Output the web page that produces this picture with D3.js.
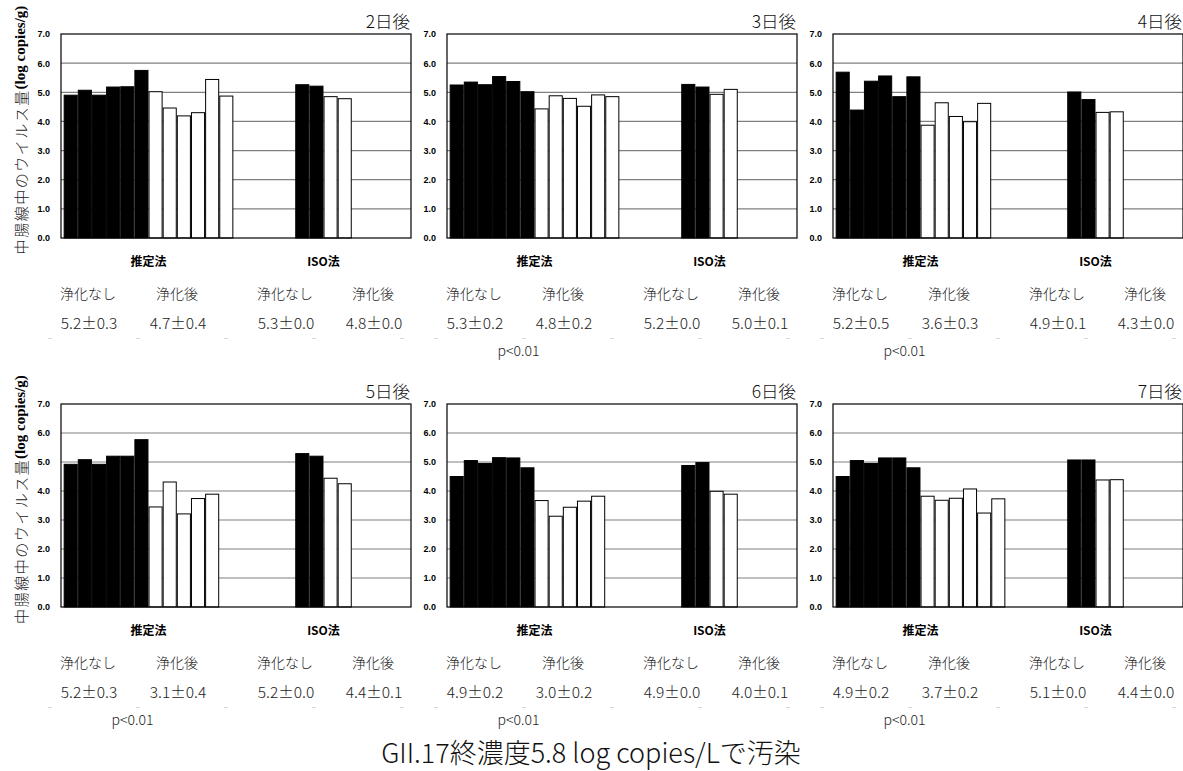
<!DOCTYPE html>
<html><head><meta charset="utf-8">
<script src="https://cdn.jsdelivr.net/npm/d3@7"></script>
<style>
body{margin:0;background:#fff;}
svg{display:block;}
</style></head>
<body><svg id="c" width="1183" height="771"></svg>
<script>
const days = ["2日後","3日後","4日後","5日後","6日後","7日後"];
const methods = ["推定法","ISO法"];
const estNone = [[4.90,5.07,4.90,5.18,5.19,5.75],[5.25,5.35,5.26,5.54,5.37,5.02],[5.69,4.39,5.38,5.56,4.85,5.53],[4.92,5.08,4.92,5.20,5.20,5.77],[4.50,5.05,4.95,5.15,5.14,4.80],[4.50,5.05,4.95,5.14,5.14,4.80]];
const estAfter = [[5.02,4.46,4.19,4.30,5.44,4.87],[4.43,4.88,4.79,4.52,4.91,4.85],[3.87,4.64,4.17,3.99,4.62,null],[3.45,4.31,3.21,3.74,3.89,null],[3.67,3.13,3.44,3.65,3.82,null],[3.82,3.68,3.75,4.07,3.24,3.73]];
const isoNone = [[5.26,5.21],[5.27,5.18],[5.01,4.75],[5.29,5.20],[4.88,4.98],[5.07,5.07]];
const isoAfter = [[4.85,4.78],[4.93,5.10],[4.31,4.33],[4.44,4.25],[3.99,3.89],[4.38,4.39]];
const headers = ["浄化なし","浄化後","浄化なし","浄化後"];
const stats = [["5.2±0.3","4.7±0.4","5.3±0.0","4.8±0.0"],["5.3±0.2","4.8±0.2","5.2±0.0","5.0±0.1"],["5.2±0.5","3.6±0.3","4.9±0.1","4.3±0.0"],["5.2±0.3","3.1±0.4","5.2±0.0","4.4±0.1"],["4.9±0.2","3.0±0.2","4.9±0.0","4.0±0.1"],["4.9±0.2","3.7±0.2","5.1±0.0","4.4±0.0"]];
const pTexts = ["","p<0.01","p<0.01","p<0.01","p<0.01","p<0.01"];
const yTicks = [0,1,2,3,4,5,6,7];
const yLabelJa = "中腸線中のウイルス量";
const yLabelEn = "(log copies/g)";
const mainTitle = "GII.17終濃度5.8 log copies/Lで汚染";

const svg = d3.select("#c");
const JP = "'Noto Sans CJK JP','Noto Sans',sans-serif";
const W = 350;
const lefts = [61, 447, 833];
const tops = [34, 404];
const bottoms = [238, 607];
const colOff = [27, 116, 224, 312];

days.forEach((day, k) => {
  const r = Math.floor(k / 3), c = k % 3;
  const L = lefts[c], T = tops[r], B = bottoms[r];
  const g = svg.append("g").attr("transform", `translate(${L},${T})`);
  const H = B - T;
  const y = d3.scaleLinear().domain([0, 7]).range([H, 0]);
  const x0 = d3.scaleBand().domain(methods).range([0, W]);
  const cw = x0.bandwidth();
  const step = cw * 0.97 / 12;
  const estVals = estNone[k].map(v => ({v, fill: "#000"})).concat(estAfter[k].map(v => ({v, fill: "#fff"})));
  const isoVals = isoNone[k].map(v => ({v, fill: "#000"})).concat(isoAfter[k].map(v => ({v, fill: "#fff"})));
  const xe = d3.scaleBand().domain(d3.range(12)).range([cw/2 - 6*step, cw/2 + 6*step]).paddingInner(0.075).paddingOuter(0.0375);
  const xi = d3.scaleBand().domain(d3.range(4)).range([cw/2 - 2*step, cw/2 + 2*step]).paddingInner(0.075).paddingOuter(0.0375);

  g.selectAll("line.grid").data(yTicks.filter(t => t > 0 && t < 7)).join("line")
    .attr("x1", 0).attr("x2", W).attr("y1", d => y(d)).attr("y2", d => y(d))
    .attr("stroke", "#808080").attr("stroke-width", 1.2);

  const drawBars = (vals, xs, cat) => {
    g.append("g").attr("transform", `translate(${x0(cat)},0)`)
      .selectAll("rect").data(vals.map((d, i) => ({...d, i})).filter(d => d.v != null)).join("rect")
      .attr("x", d => xs(d.i)).attr("width", xs.bandwidth())
      .attr("y", d => y(d.v)).attr("height", d => H - y(d.v))
      .attr("fill", d => d.fill).attr("stroke", "#000").attr("stroke-width", 1);
  };
  drawBars(estVals, xe, methods[0]);
  drawBars(isoVals, xi, methods[1]);

  g.append("rect").attr("x", 0).attr("y", 0).attr("width", W).attr("height", H)
    .attr("fill", "none").attr("stroke", "#000").attr("stroke-width", 1.2);

  const ax = g.append("g").call(d3.axisLeft(y).tickValues(yTicks).tickFormat(d3.format(".1f")).tickSize(0).tickPadding(11));
  ax.select(".domain").remove();
  ax.selectAll("text").attr("font-family", "'Liberation Sans',Arial,sans-serif").attr("font-weight", "bold").attr("font-size", "9px").attr("fill", "#000");

  svg.append("text").attr("x", L + W - 1).attr("y", T - 6).attr("text-anchor", "end")
    .attr("font-family", JP).attr("font-weight", 300).attr("font-size", "17.5px").attr("fill", "#111").text(day);

  methods.forEach(m => {
    svg.append("text").attr("x", L + x0(m) + cw/2).attr("y", B + 28).attr("text-anchor", "middle")
      .attr("font-family", JP).attr("font-weight", "bold").attr("font-size", "12px").attr("fill", "#000").text(m);
  });

  headers.forEach((h, j) => {
    svg.append("text").attr("x", L + colOff[j]).attr("y", B + 55).attr("text-anchor", "middle").attr("dominant-baseline", "central")
      .attr("font-family", JP).attr("font-weight", 300).attr("font-size", "14px").attr("fill", "#222").text(h);
    svg.append("text").attr("x", L + colOff[j] + 1).attr("y", B + 84).attr("text-anchor", "middle").attr("dominant-baseline", "central")
      .attr("font-family", JP).attr("font-weight", 300).attr("font-size", "15.5px").attr("fill", "#222").text(stats[k][j]);
  });
  svg.append("line").attr("x1", L - 13).attr("x2", L + W + 8).attr("y1", B + 100.5).attr("y2", B + 100.5)
    .attr("stroke", "#d8d8d8").attr("stroke-width", 1).attr("stroke-dasharray", "4,84");
  if (pTexts[k]) {
    svg.append("text").attr("x", L + (colOff[0] + colOff[1]) / 2).attr("y", B + 112).attr("text-anchor", "middle").attr("dominant-baseline", "central")
      .attr("font-family", JP).attr("font-weight", 300).attr("font-size", "14px").attr("fill", "#222").text(pTexts[k]);
  }

  if (c === 0) {
    const t = svg.append("text").attr("transform", `translate(20,${(T + B) / 2 - 6}) rotate(-90)`)
      .attr("text-anchor", "middle").attr("dominant-baseline", "central").attr("font-size", "15px");
    t.append("tspan").attr("font-family", JP).attr("font-weight", 300).attr("fill", "#222").attr("letter-spacing", "1.5px").text(yLabelJa);
    t.append("tspan").attr("font-family", "'Liberation Serif','Times New Roman',serif").attr("font-weight", "bold").attr("fill", "#000").text(yLabelEn);
  }
});

svg.append("text").attr("x", 591).attr("y", 763).attr("text-anchor", "middle")
  .attr("font-family", JP).attr("font-weight", 300).attr("font-size", "27px").attr("fill", "#111").text(mainTitle);
</script></body></html>
